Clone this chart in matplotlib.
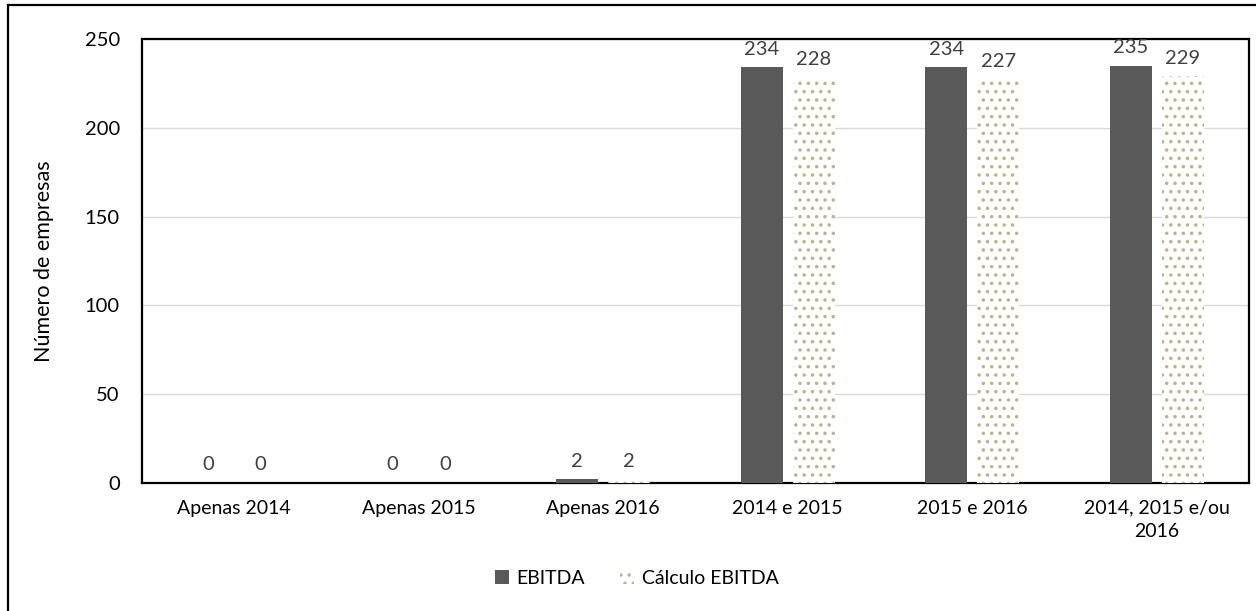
import numpy as np
import matplotlib
matplotlib.use("Agg")
import matplotlib.pyplot as plt
from matplotlib.patches import Rectangle

plt.rcParams["font.family"] = ["Lato", "DejaVu Sans"]
plt.rcParams["hatch.linewidth"] = 1.3

categorias = ["Apenas 2014", "Apenas 2015", "Apenas 2016", "2014 e 2015",
              "2015 e 2016", "2014, 2015 e/ou\n2016"]
ebitda = [0, 0, 2, 234, 234, 235]
calculo_ebitda = [0, 0, 2, 228, 227, 229]
series = ["EBITDA", "Cálculo EBITDA"]

fig = plt.figure(figsize=(12.56, 6.11), dpi=100)
ax = fig.add_axes([142 / 1256, 128 / 611, 1107 / 1256, 444 / 611])

x = np.arange(len(categorias))
w = 0.228
off = 0.141

b1 = ax.bar(x - off, ebitda, w, color="#595959", label=series[0], zorder=3)
b2 = ax.bar(x + off, calculo_ebitda, w, facecolor="white", edgecolor="#bdb38a",
            linewidth=0, hatch="..", label=series[1], zorder=3)

for bars in (b1, b2):
    for r in bars:
        ax.annotate(f"{int(r.get_height())}",
                    (r.get_x() + r.get_width() / 2, r.get_height()),
                    xytext=(0, 7), textcoords="offset points",
                    ha="center", va="bottom", fontsize=14.5, color="#404040")

ax.set_xlim(-0.5, len(categorias) - 0.5)
ax.set_ylim(0, 250)
ax.set_yticks(np.arange(0, 251, 50))
ax.set_xticks(x)
ax.set_xticklabels(categorias, fontsize=14, linespacing=1.45)
ax.tick_params(axis="y", labelsize=14.5, length=0, pad=16)
ax.tick_params(axis="x", length=0, pad=12)
ax.grid(axis="y", color="#d9d9d9", linewidth=1, zorder=0)
for s in ax.spines.values():
    s.set_linewidth(1.6)
    s.set_color("black")
ax.set_ylabel("Número de empresas", fontsize=15.5, labelpad=22)

fig.legend(loc="center", bbox_to_anchor=(637 / 1256, 1 - 578 / 611), ncol=2,
           frameon=False, fontsize=14, handlelength=0.7, handleheight=0.7,
           handletextpad=0.4, columnspacing=1.8)

fig.add_artist(Rectangle((8 / 1256, -0.1), 1.5, 1.1 - 5 / 611,
                         transform=fig.transFigure, fill=False,
                         linewidth=1.6, edgecolor="black"))

fig.savefig("out.png", dpi=100)
